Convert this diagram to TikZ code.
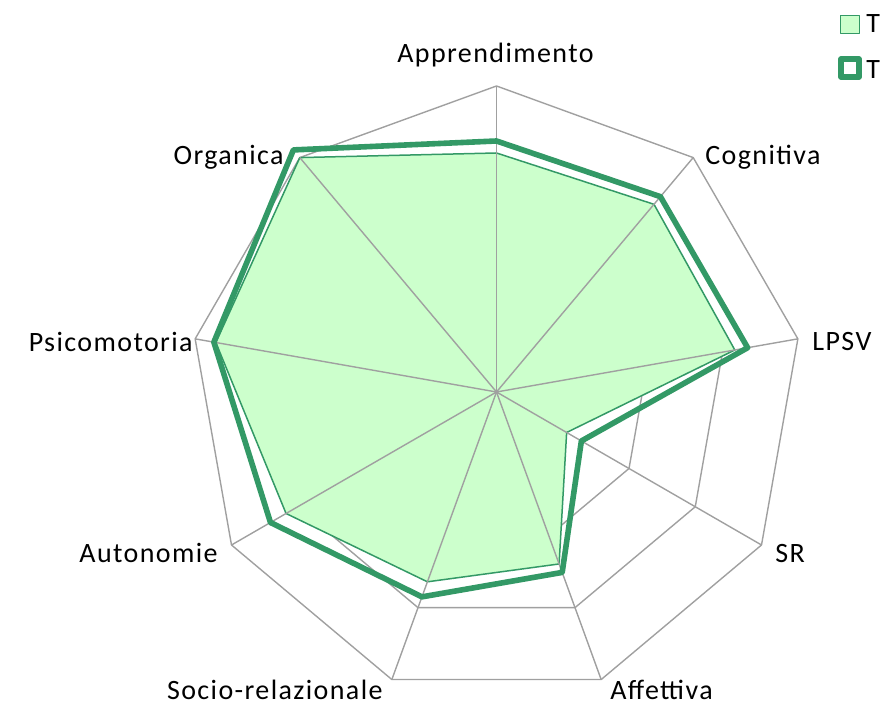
\documentclass[tikz,border=0pt]{standalone}
\usepackage{fontspec}
\setmainfont{Carlito}[LetterSpace=5]
\definecolor{gridgray}{RGB}{160,160,160}
\definecolor{areagreen}{RGB}{204,255,204}
\definecolor{linegreen}{RGB}{51,153,102}

\begin{document}
\begin{tikzpicture}[x=0.5pt,y=0.5pt,line join=round,
                    font=\fontsize{14}{17}\selectfont]
  \tikzstyle{grid}=[draw=gridgray,line width=0.7pt]
  \tikzstyle{area}=[fill=areagreen,draw=linegreen,line width=0.75pt]
  \tikzstyle{thick line}=[draw=linegreen,line width=2.8pt]
  \tikzstyle{lbl}=[inner sep=0pt,text=black]

  \useasboundingbox (0,0) rectangle (882,705);
  \coordinate (C) at (496.5,313);

  \begin{scope}[shift={(C)}]
    % rings
    \foreach \r in {76.5,153,229.5,306}
      \draw[grid] (90:\r) \foreach \a in {50,10,-30,-70,-110,-150,170,130} { -- (\a:\r) } -- cycle;
    % first series, filled
    \draw[area] (90:239) -- (50:245) -- (10:242) -- (-30:81) -- (-70:183)
      -- (-110:202) -- (-150:243) -- (170:285) -- (130:306) -- cycle;
    % spokes
    \foreach \a [count=\i] in {90,50,10,-30,-70,-110,-150,170,130}
      \coordinate (o\i) at (\a:306);
  \end{scope}
  \foreach \i in {1,...,9}
    \draw[grid] (C) -- (o\i);

  % second series
  \begin{scope}[shift={(C)}]
    \draw[thick line] (90:251) -- (50:255) -- (10:255) -- (-30:98) -- (-70:192)
      -- (-110:218) -- (-150:261) -- (170:287) -- (130:316) -- cycle;
  \end{scope}

  \node[lbl,anchor=base]      (appr)  at (495.5,642) {Apprendimento};
  \node[lbl,anchor=base west] (cogn)  at (705,540)   {Cognitiva};
  \node[lbl,anchor=base west] (lpsv)  at (812,354)   {LPSV};
  \node[lbl,anchor=base west] (sr)    at (775,142)   {SR};
  \node[lbl,anchor=base west] (aff)   at (610,5)     {Affettiva};
  \node[lbl,anchor=base east] (socio) at (383,5)     {Socio-relazionale};
  \node[lbl,anchor=base east] (auto)  at (218,142)   {Autonomie};
  \node[lbl,anchor=base east] (psico) at (193,353)   {Psicomotoria};
  \node[lbl,anchor=base east] (org)   at (284,540)   {Organica};

  % legend
  \draw[area] (840.5,671.5) rectangle (859.5,689.5);
  \node[lbl,anchor=base west] (leg1) at (866,672) {T};
  \draw[thick line,fill=white] (841,628) rectangle (859,646);
  \node[lbl,anchor=base west] (leg2) at (866,626) {T};
\end{tikzpicture}
\end{document}
